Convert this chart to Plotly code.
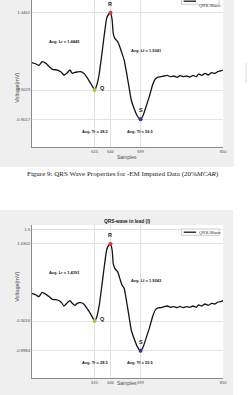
import plotly.graph_objects as go

# ---------------- data ----------------
samples = [500, 508, 513, 519, 526, 532, 538, 547, 553, 559,
           565, 570, 574, 579, 583, 589, 595, 601, 607, 612,
           615, 619, 623, 628, 633, 637, 641, 644, 647, 649,
           652, 657, 661, 665, 669, 673, 678, 682, 687, 693,
           699, 704, 709, 715, 721, 726, 730, 736, 742, 748,
           754, 760, 766, 771, 777, 783, 789, 795, 801, 805,
           811, 817, 823, 829, 835, 841, 845, 850]

top_values = [0.2487, 0.2219, 0.1950, 0.2689, 0.2353, 0.1682, 0.1145, 0.1011, 0.0675, 0.0004,
              0.0474, 0.1011, 0.0340, 0.0541, 0.0608, 0.0675, 0.0340, -0.0466, -0.1539, -0.2479,
              -0.3016, -0.2009, 0.0004, 0.4031, 0.8393, 1.1414, 1.2286, 1.2554, 1.1078, 0.8393,
              0.7387, 0.6716, 0.5709, 0.4367, 0.3024, 0.0675, -0.2479, -0.5029, -0.6707, -0.8251,
              -0.8922, -0.8050, -0.6372, -0.4358, -0.2009, -0.0801, -0.0466, -0.0331, -0.0197, -0.0063,
              -0.0331, -0.0197, -0.0466, -0.0130, -0.0331, -0.0197, -0.0399, -0.0063, -0.0331, 0.0205,
              -0.0063, 0.0340, 0.0004, 0.0474, 0.0340, 0.0742, 0.0810, 0.1011]

bottom_values = [0.2554, 0.2219, 0.1883, 0.2756, 0.2353, 0.1883, 0.1346, 0.1212, 0.0877, 0.0004,
                 0.0675, 0.1078, 0.0541, 0.0138, 0.0541, 0.0675, 0.0407, -0.0466, -0.1472, -0.2479,
                 -0.3016, -0.2144, -0.0130, 0.3897, 0.8259, 1.1279, 1.2286, 1.2487, 1.1279, 0.8595,
                 0.7588, 0.6917, 0.5575, 0.4232, 0.3561, 0.1212, -0.2144, -0.4828, -0.6506, -0.8184,
                 -0.8989, -0.8184, -0.6506, -0.4492, -0.2144, -0.0801, -0.0399, -0.0331, -0.0130, 0.0004,
                 -0.0264, -0.0130, -0.0331, -0.0063, -0.0331, -0.0130, -0.0264, 0.0004, -0.0264, 0.0205,
                 0.0004, 0.0407, 0.0138, 0.0541, 0.0407, 0.0809, 0.0877, 0.1078]

top_y_tick_labels = ["-0.9017", "-0.3029", "1.4461"]
bottom_y_tick_labels = ["-0.8984", "-0.3016", "1.0302", "1.5"]
bottom_upper_tick = 1.544

top_stats = ["Avg. Lr = 1.4445", "Avg. Lf = 1.9341", "Avg. Tr = 28.5", "Avg. Tf = 56.5"]
bottom_stats = ["Avg. Lr = 1.4391", "Avg. Lf = 1.9243", "Avg. Tr = 28.5", "Avg. Tf = 55.5"]

series_name = "QRS-Wave"
bottom_title = "QRS-wave in lead (I)"
caption = "Figure 9: QRS Wave Properties for -EM Imputed Data (20%<i>MCAR</i>)"
x_title = "Samples"
y_title = "Voltage(mV)"

# ---------------- layout helpers ----------------
W, H = 251, 395
def fx(px): return px / W
def fy(py): return 1 - py / H

x_dom = [fx(32.3), fx(226.7)]
top_dom = [fy(147), 1.0]
bot_dom = [fy(378), fy(225)]
x_range = [500, 850]
top_range = [-1.449, 1.5105]
bot_range = [-1.449, 1.631]

def qrs_indices(v):
    r = max(range(len(v)), key=lambda i: v[i])
    s = min(range(r, len(v)), key=lambda i: v[i])
    q = min(range(0, r), key=lambda i: v[i])
    return q, r, s

FONT = "Liberation Sans, Arial, sans-serif"
fig = go.Figure()

panels = [
    dict(vals=top_values, xa="x", ya="y", ylabels=top_y_tick_labels, stats=top_stats, extra=None),
    dict(vals=bottom_values, xa="x2", ya="y2", ylabels=bottom_y_tick_labels, stats=bottom_stats, extra=bottom_upper_tick),
]

annotations = []
for p in panels:
    v = p["vals"]
    q, r, s = qrs_indices(v)
    p["q"], p["r"], p["s"] = q, r, s
    fig.add_trace(go.Scatter(x=samples, y=v, mode="lines", name=series_name, showlegend=False,
                             line=dict(color="#141414", width=1.3, shape="spline", smoothing=0.5),
                             xaxis=p["xa"], yaxis=p["ya"]))
    for idx, col in [(q, "#b3c43a"), (r, "#e8312a"), (s, "#4b22a8")]:
        fig.add_trace(go.Scatter(x=[samples[idx]], y=[v[idx]], mode="markers", showlegend=False,
                                 marker=dict(color=col, size=4), xaxis=p["xa"], yaxis=p["ya"]))
    # point letters
    for txt, idx, dx, dy in [("R", r, 0, 9), ("Q", q, 8, 2), ("S", s, 0, 9)]:
        annotations.append(dict(x=samples[idx], y=v[idx], xref=p["xa"], yref=p["ya"], text="<b>%s</b>" % txt,
                                showarrow=False, xshift=dx, yshift=dy,
                                font=dict(family=FONT, size=5.5, color="#222222")))
    # statistics texts
    lr, lf, tr, tf = p["stats"]
    for txt, xx, yy in [(lr, 559, 0.6716), (lf, 709, 0.5038),
                        (tr, samples[q] + 1, -1.1406), (tf, samples[s], -1.1406)]:
        annotations.append(dict(x=xx, y=yy, xref=p["xa"], yref=p["ya"], text="<b>%s</b>" % txt,
                                showarrow=False, font=dict(family=FONT, size=4, color="#222222")))

tp, bp = panels
def xaxis_cfg(anchor, q, r, s):
    tv = [samples[q], samples[r], samples[s], samples[-1]]
    return dict(domain=x_dom, range=x_range, anchor=anchor, tickvals=tv, ticktext=[str(t) for t in tv],
                tickfont=dict(family=FONT, size=4, color="#4d4d4d"), showgrid=True, gridcolor="#e2e2e2",
                gridwidth=0.6, showline=True, linecolor="#8a8a8a", linewidth=0.8, zeroline=False,
                ticks="", mirror=False)

def yaxis_cfg(anchor, dom, rng, p):
    v = p["vals"]
    tv = [v[p["s"]], v[p["q"]], v[p["r"]]]
    if p["extra"] is not None:
        tv.append(p["extra"])
    return dict(domain=dom, range=rng, anchor=anchor, tickvals=tv, ticktext=p["ylabels"],
                tickfont=dict(family=FONT, size=4.2, color="#4d4d4d"), showgrid=True, gridcolor="#e2e2e2",
                gridwidth=0.6, showline=True, linecolor="#8a8a8a", linewidth=0.8, zeroline=False,
                ticks="", mirror=False)

# axis titles, chart title, caption
annotations += [
    dict(x=fx(129.5), y=fy(157), xref="paper", yref="paper", text=x_title, showarrow=False,
         font=dict(family=FONT, size=5, color="#4d4d4d")),
    dict(x=fx(129.5), y=fy(388), xref="paper", yref="paper", text=x_title, showarrow=False,
         font=dict(family=FONT, size=5, color="#4d4d4d")),
    dict(x=fx(12), y=fy(71), xref="paper", yref="paper", text=y_title, showarrow=False, textangle=-90,
         font=dict(family=FONT, size=5.5, color="#4d4d4d")),
    dict(x=fx(12), y=fy(304), xref="paper", yref="paper", text=y_title, showarrow=False, textangle=-90,
         font=dict(family=FONT, size=5.5, color="#4d4d4d")),
    dict(x=fx(129.5), y=fy(221), xref="paper", yref="paper", text="<b>%s</b>" % bottom_title,
         showarrow=False, font=dict(family=FONT, size=4.8, color="#222222")),
    dict(x=fx(125), y=fy(173.7), xref="paper", yref="paper", text=caption, showarrow=False,
         font=dict(family="Liberation Serif, Times New Roman, serif", size=7, color="#222222")),
    # legend texts
    dict(x=fx(200), y=fy(232.2), xref="paper", yref="paper", text=series_name, showarrow=False,
         xanchor="left", font=dict(family=FONT, size=4.3, color="#333333")),
    dict(x=fx(200), y=fy(1.2), xref="paper", yref="paper", text=series_name, showarrow=False,
         xanchor="left", font=dict(family=FONT, size=4.3, color="#333333")),
]

shapes = [
    dict(type="rect", xref="paper", yref="paper", x0=0, x1=fx(238), y0=fy(167), y1=1,
         fillcolor="#efefef", line=dict(width=0), layer="below"),
    dict(type="rect", xref="paper", yref="paper", x0=0, x1=fx(237), y0=0, y1=fy(210),
         fillcolor="#efefef", line=dict(width=0), layer="below"),
    dict(type="rect", xref="paper", yref="paper", x0=fx(249), x1=1, y0=fy(83), y1=fy(63),
         fillcolor="#ededed", line=dict(width=0), layer="below"),
    dict(type="rect", xref="paper", yref="paper", x0=x_dom[0], x1=x_dom[1], y0=top_dom[0], y1=top_dom[1],
         fillcolor="white", line=dict(width=0), layer="below"),
    dict(type="rect", xref="paper", yref="paper", x0=x_dom[0], x1=x_dom[1], y0=bot_dom[0], y1=bot_dom[1],
         fillcolor="white", line=dict(width=0), layer="below"),
    # legend boxes
    dict(type="rect", xref="paper", yref="paper", x0=fx(184.3), x1=fx(222.7), y0=fy(235.3), y1=fy(229),
         fillcolor="white", line=dict(width=0.5, color="#9a9a9a")),
    dict(type="line", xref="paper", yref="paper", x0=fx(186.7), x1=fx(199.3), y0=fy(232.2), y1=fy(232.2),
         line=dict(width=1.3, color="#141414")),
    dict(type="rect", xref="paper", yref="paper", x0=fx(184.3), x1=fx(222.7), y0=fy(4.3), y1=fy(-2.0),
         fillcolor="white", line=dict(width=0.5, color="#9a9a9a")),
    dict(type="line", xref="paper", yref="paper", x0=fx(186.7), x1=fx(199.3), y0=fy(1.2), y1=fy(1.2),
         line=dict(width=1.3, color="#141414")),
]

fig.update_layout(
    width=W, height=H, margin=dict(l=0, r=0, t=0, b=0),
    paper_bgcolor="white", plot_bgcolor="white", showlegend=False,
    xaxis=xaxis_cfg("y", tp["q"], tp["r"], tp["s"]),
    yaxis=yaxis_cfg("x", top_dom, top_range, tp),
    xaxis2=xaxis_cfg("y2", bp["q"], bp["r"], bp["s"]),
    yaxis2=yaxis_cfg("x2", bot_dom, bot_range, bp),
    annotations=annotations, shapes=shapes,
)

fig.write_html("out.html")
